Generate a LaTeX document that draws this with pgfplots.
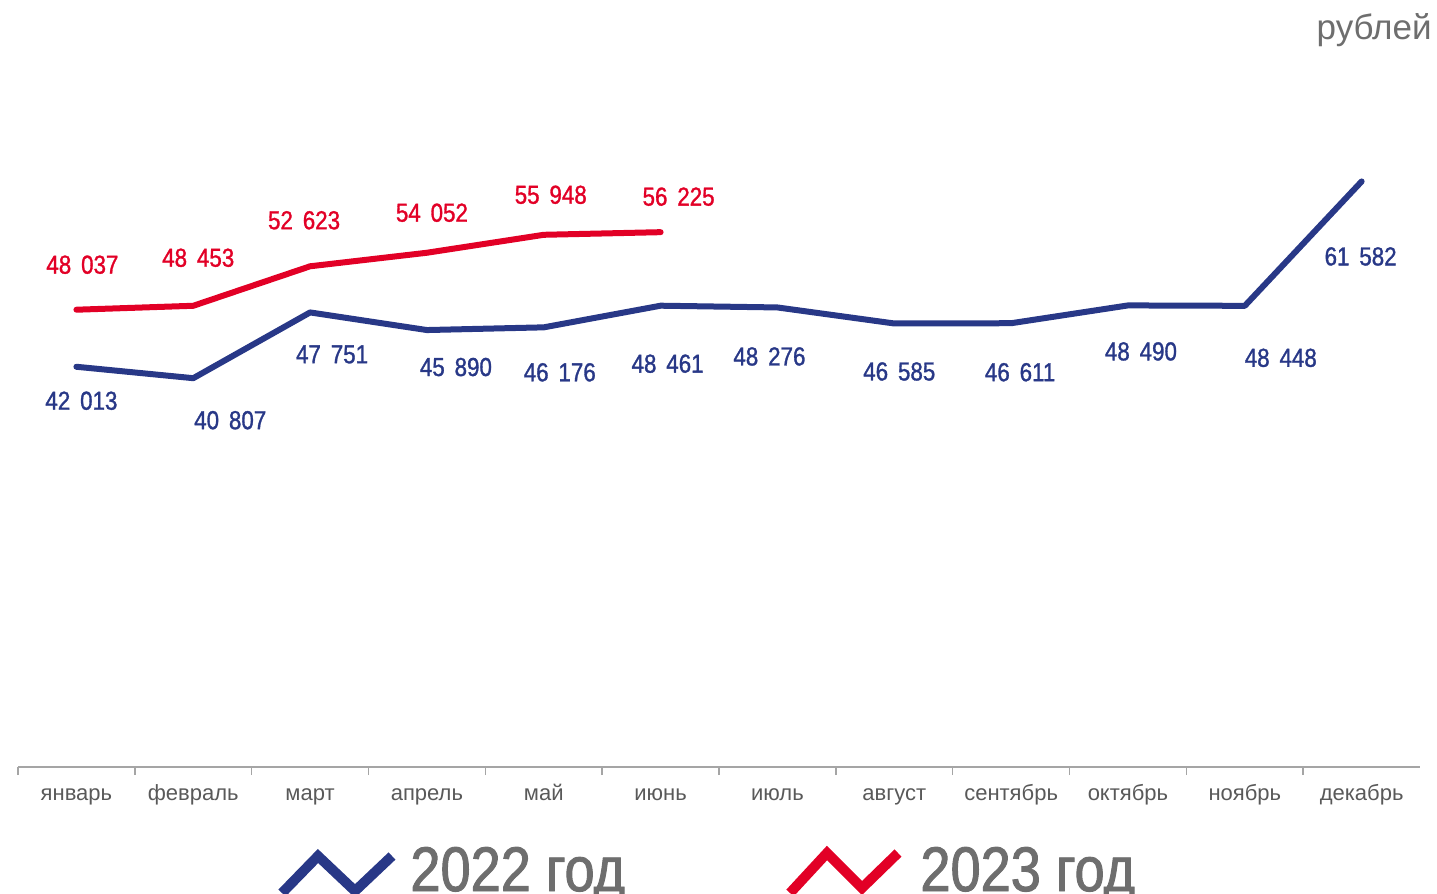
\documentclass[border=0pt]{standalone}
\usepackage{pgfplots}
\pgfplotsset{compat=1.18}
\usepackage{pgfplotstable}
\usepackage{fontspec}
\setmainfont{Liberation Sans}
\newfontfamily\narrow[FakeStretch=0.86, FakeBold=1.2]{Liberation Sans}
\newfontfamily\bignarrow[FakeStretch=0.86, FakeBold=1.5]{Liberation Sans}
\definecolor{cblue}{RGB}{40,56,135}
\definecolor{cred}{RGB}{226,0,38}
\definecolor{cgray}{RGB}{89,89,89}
\definecolor{lgray}{RGB}{110,110,110}
\definecolor{agray}{RGB}{165,165,165}

% x = month index, y = value, dx/dy = label offset (bp)
\pgfplotstableread{
x y dx dy
0 42013 2.5 -17
1 40807 18.5 -21
2 47751 11 -21
3 45890 14.5 -18.5
4 46176 8 -22.5
5 48461 3.5 -29
6 48276 -4 -24.5
7 46585 2.5 -24
8 46611 4.5 -24.5
9 48490 6.5 -23
10 48448 18 -26
11 61582 -0.5 -37.5
}\tabA
\pgfplotstableread{
x y dx dy
0 48037 3 22.5
1 48453 2.5 24
2 52623 -3 23
3 54052 2.5 20
4 55948 3.5 20
5 56225 9 17.75
}\tabB

\begin{document}
\begin{tikzpicture}
\begin{axis}[
  at={(9bp,-383.5bp)}, anchor=south west,
  scale only axis, width=701bp, height=380bp,
  xmin=-0.5, xmax=11.5, ymin=-250, ymax=80000,
  axis x line*=bottom, axis y line=none,
  x axis line style={agray, line width=0.75bp},
  clip=false,
  xtick={0,...,11},
  xticklabels={январь,февраль,март,апрель,май,июнь,июль,август,сентябрь,октябрь,ноябрь,декабрь},
  major tick length=0pt,
  xticklabel style={font=\fontsize{11bp}{13bp}\selectfont, text=cgray, inner sep=0pt, anchor=north, yshift=-9bp, text height=0.75em},
  extra x ticks={-0.5,0.5,...,10.5},
  extra x tick labels={},
  extra x tick style={tick align=outside, major tick length=4bp, tick style={agray, line width=0.75bp}},
  /pgf/number format/fixed,
  /pgf/number format/precision=0,
  /pgf/number format/1000 sep={\kern0.38em},
  /pgf/number format/assume math mode=true,
  nodes near coords,
  point meta=y,
  nodes near coords align={center},
  visualization depends on={\thisrow{dx} \as \dx},
  visualization depends on={\thisrow{dy} \as \dy},
]
\addplot[cblue, line width=3bp, line join=round, line cap=round,
  every node near coord/.append style={xshift=\dx bp, yshift=\dy bp, inner sep=0pt, anchor=center, font=\narrow\fontsize{13bp}{15bp}\selectfont, text=cblue}]
  table[x=x, y=y] {\tabA};
\addplot[cred, line width=3bp, line join=round, line cap=round,
  every node near coord/.append style={xshift=\dx bp, yshift=\dy bp, inner sep=0pt, anchor=center, font=\narrow\fontsize{13bp}{15bp}\selectfont, text=cred}]
  table[x=x, y=y] {\tabB};
\end{axis}
\begin{scope}[x=0.5bp, y=-0.5bp]
  \node[anchor=base east, inner sep=0pt, text=lgray, font=\fontsize{17.5bp}{20bp}\selectfont] at (1432,39) {рублей};
  \draw[cblue, line width=5bp, miter limit=10] (282,893) -- (318,856) -- (355,891) -- (392,856);
  \node[anchor=base west, inner sep=0pt, text=lgray, font=\bignarrow\fontsize{31.5bp}{36bp}\selectfont] at (410,891) {2022 год};
  \draw[cred, line width=5bp, miter limit=10] (790,893) -- (827,853) -- (862,888) -- (898,853);
  \node[anchor=base west, inner sep=0pt, text=lgray, font=\bignarrow\fontsize{31.5bp}{36bp}\selectfont] at (920,891) {2023 год};
  \pgfresetboundingbox
  \path[use as bounding box] (0,0) rectangle (1437,893);
\end{scope}
\end{tikzpicture}
\end{document}
